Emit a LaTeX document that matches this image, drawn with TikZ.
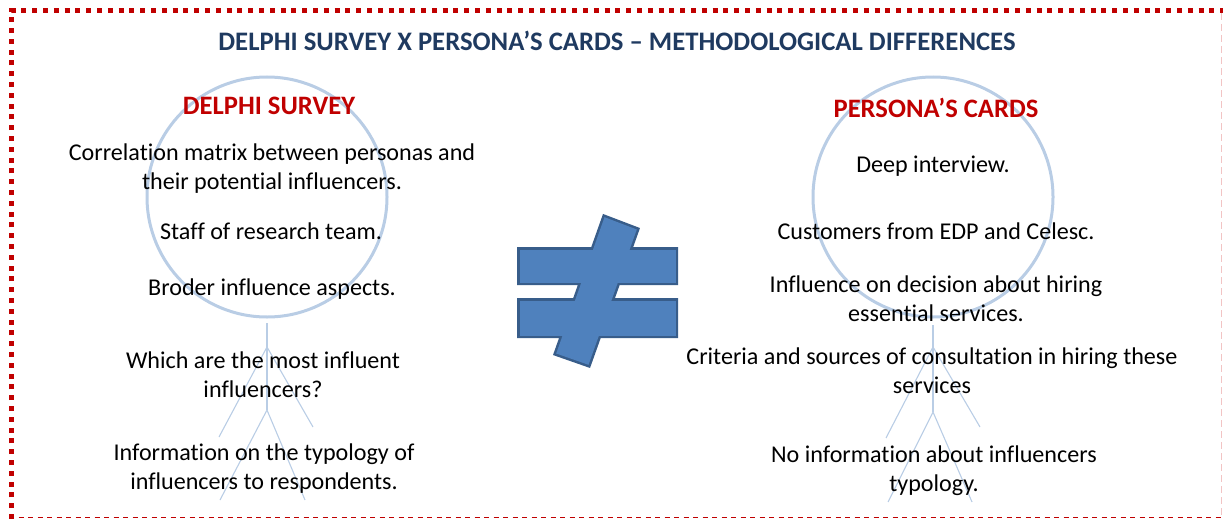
\documentclass[tikz,border=0pt]{standalone}
\usepackage{fontspec}
\setmainfont[Ligatures=NoCommon]{Carlito}
\definecolor{titleblue}{RGB}{31,58,96}
\definecolor{headred}{RGB}{192,0,0}
\definecolor{figblue}{RGB}{185,205,229}
\definecolor{neqfill}{RGB}{79,129,189}
\definecolor{neqline}{RGB}{56,93,138}
\definecolor{borderred}{RGB}{192,0,0}
\definecolor{borderpink}{RGB}{242,196,196}
\tikzset{
  body/.style={font=\fontsize{24.1}{29}\selectfont, align=center, inner sep=0pt, text=black},
  head/.style={font=\fontsize{26.6}{30}\selectfont\bfseries, text=headred, inner sep=0pt},
  ttl/.style={font=\fontsize{26.7}{30}\selectfont\bfseries, text=titleblue, inner sep=0pt},
  headcircle/.style={draw=figblue, line width=3pt},
  limb/.style={draw=figblue, line width=1.1pt},
}
\begin{document}
\begin{tikzpicture}[x=1pt,y=-1pt]
\useasboundingbox (0,0) rectangle (1223,519);
% border
\draw[borderred, line width=5pt, dash pattern=on 5pt off 5.8pt] (11,519) -- (11,11) -- (1223,11);
\draw[borderred, line width=1.3pt, dash pattern=on 5pt off 4.5pt] (9,517.5) -- (1223,517.5);
\draw[borderpink, line width=1.3pt, dash pattern=on 7pt off 4pt] (1221.5,13) -- (1221.5,517);
% stick figures
\draw[headcircle] (267,197) circle (120);
\draw[headcircle] (933,197) circle (120);
\coordinate (lneck) at (267,323);
\coordinate (lsh) at (267,347);
\coordinate (lhip) at (267,410);
\coordinate (llh) at (219,437);
\coordinate (lrh) at (313,427);
\coordinate (llf) at (220,500);
\coordinate (lrf) at (305,500);
\draw[limb] (lneck) -- (lhip);
\draw[limb] (llh) -- (lsh) -- (lrh);
\draw[limb] (llf) -- (lhip) -- (lrf);
\coordinate (rneck) at (933,325);
\coordinate (rsh) at (933,347);
\coordinate (rhip) at (933,412);
\coordinate (rlh) at (886,438);
\coordinate (rrh) at (980,427);
\coordinate (rlf) at (888,502);
\coordinate (rrf) at (972,502);
\draw[limb] (rneck) -- (rhip);
\draw[limb] (rlh) -- (rsh) -- (rrh);
\draw[limb] (rlf) -- (rhip) -- (rrf);
% not equal sign
\def\neqA{(519.5,249.5) rectangle (675.5,282.5)}
\def\neqB{(519.5,300.5) rectangle (675.5,335.5)}
\def\neqC{(604.5,217.2) -- (636.8,229.5) -- (588.5,364.8) -- (556.2,353.5) -- cycle}
\draw[neqline, line width=5pt, line join=miter] \neqA \neqB \neqC;
\fill[neqfill] \neqA;
\fill[neqfill] \neqB;
\fill[neqfill] \neqC;
% texts
\node[ttl] (title) at (617,41) {DELPHI SURVEY X PERSONA’S CARDS – METHODOLOGICAL DIFFERENCES};
\node[head] (lhead) at (269,106) {DELPHI SURVEY};
\node[head] (rhead) at (936,108) {PERSONA’S CARDS};
\node[body] (l1) at (272,168.5) {Correlation matrix between personas and\\their potential influencers.};
\node[body] (l2) at (271,231.5) {Staff of research team.};
\node[body] (l3) at (272,289.5) {Broder influence aspects.};
\node[body] (l4) at (263,374.5) {Which are the most influent\\influencers?};
\node[body] (l5) at (264,468.5) {Information on the typology of\\influencers to respondents.};
\node[body] (r1) at (933,166.5) {Deep interview.};
\node[body] (r2) at (936,231.5) {Customers from EDP and Celesc.};
\node[body] (r3) at (936,298.5) {Influence on decision about hiring\\essential services.};
\node[body] (r4) at (932,370.5) {Criteria and sources of consultation in hiring these\\services};
\node[body] (r5) at (934,470.5) {No information about influencers\\typology.};
\end{tikzpicture}
\end{document}
